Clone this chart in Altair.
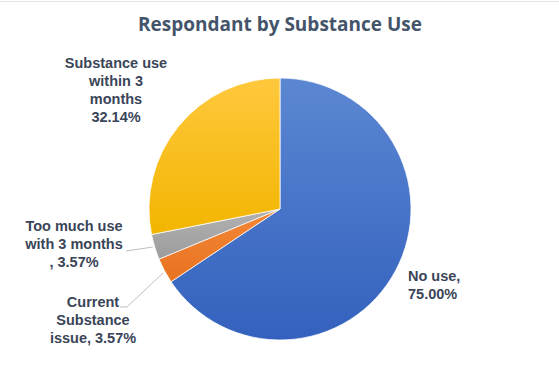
import altair as alt
import pandas as pd

# ---- data ----
categories = ["No use", "Current Substance issue", "Too much use with 3 months", "Substance use within 3 months"]
values = [75.00, 3.57, 3.57, 32.14]
label_texts = ["No use,\n75.00%", "Current\nSubstance\nissue, 3.57%", "Too much use\nwith 3 months\n, 3.57%", "Substance use\nwithin 3\nmonths\n32.14%"]

df = pd.DataFrame({"cat": categories, "value": values, "order": list(range(len(categories)))})

CX, CY, R = 280, 209, 131

def grad(c1, c2):
    return {"gradient": "linear", "x1": 0, "y1": 0, "x2": 0, "y2": 1,
            "stops": [{"offset": 0, "color": c1}, {"offset": 1, "color": c2}]}

fills = {
    "No use": grad("#5B87D2", "#3361BD"),
    "Current Substance issue": grad("#F38838", "#E8721F"),
    "Too much use with 3 months": grad("#B2B2B2", "#9C9C9C"),
    "Substance use within 3 months": grad("#FFC83D", "#F2B500"),
}
fill_def = {
    "condition": [{"test": f"datum.cat === '{k}'", "value": v} for k, v in fills.items()],
    "value": "#A5A5A5",
}

pie = alt.Chart(df).mark_arc(radius=R, stroke="white", strokeWidth=0.75).encode(
    theta=alt.Theta("value:Q", stack=True),
    order=alt.Order("order:Q"),
    x=alt.value(CX),
    y=alt.value(CY),
    fill=fill_def,
)

LABEL_COLOR = "#3A4558"
label_layout = [  # (x, y of first line, align)
    (408, 277, "left"),
    (93, 303, "center"),
    (74, 227, "center"),
    (116, 64, "center"),
]
layers = [pie]
for txt, (lx, ly, al) in zip(label_texts, label_layout):
    layers.append(
        alt.Chart(pd.DataFrame({"t": [txt]})).mark_text(
            font="Liberation Sans", fontWeight="bold", fontSize=14.5, color=LABEL_COLOR,
            align=al, baseline="middle", lineBreak="\n", lineHeight=18,
        ).encode(x=alt.value(lx), y=alt.value(ly), text="t:N")
    )

dummy = pd.DataFrame({"a": [0]})
leaders = [
    (126, 251, 153, 247),
    (120, 307, 127, 307),
    (127, 307, 163, 273),
]
for x1, y1, x2, y2 in leaders:
    layers.append(
        alt.Chart(dummy).mark_rule(color="#BFBFBF", strokeWidth=1).encode(
            x=alt.value(x1), y=alt.value(y1), x2=alt.value(x2), y2=alt.value(y2)
        )
    )

# top border line
layers.append(
    alt.Chart(dummy).mark_rule(color="#E3E3E3", strokeWidth=1).encode(
        x=alt.value(0), x2=alt.value(559), y=alt.value(1.5)
    )
)

title = alt.Chart(pd.DataFrame({"t": ["Respondant by Substance Use"]})).mark_text(
    font="Open Sans", fontWeight="bold", fontSize=19, color="#44546A", align="center", baseline="middle"
).encode(x=alt.value(280), y=alt.value(25), text="t:N")
layers.append(title)

chart = alt.layer(*layers).properties(
    width=559, height=378, padding=0, autosize=alt.AutoSizeParams(type="none"),
    background="white",
).configure_view(stroke=None)

chart.save("out.html", embed_options={"renderer": "svg", "actions": False})
